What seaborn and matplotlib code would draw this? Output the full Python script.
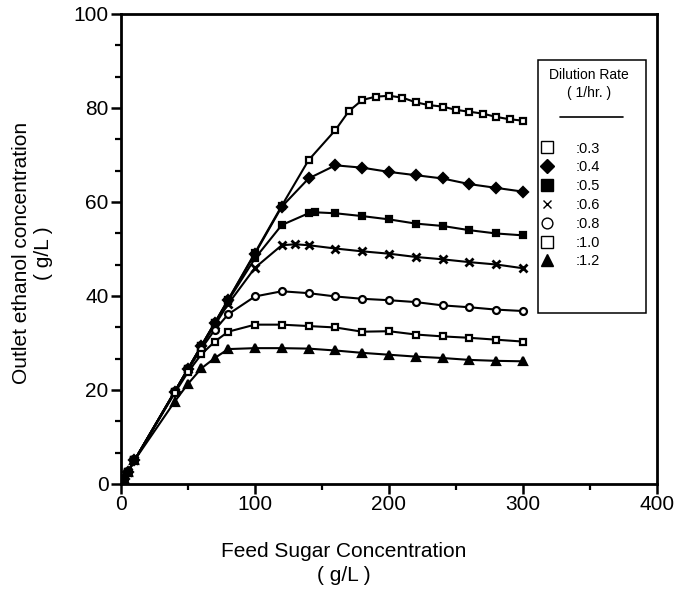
import matplotlib
matplotlib.use("Agg")
import matplotlib.pyplot as plt
from matplotlib.lines import Line2D
from matplotlib.patches import Rectangle
from matplotlib.ticker import MultipleLocator, AutoMinorLocator
import numpy as np
import pandas as pd
import seaborn as sns

# Feed sugar (g/L) and outlet ethanol (g/L) for each dilution rate (1/hr)
feed_03 = [2, 5, 10, 40, 50, 60, 70, 80, 100, 120, 140, 160, 170, 180, 190, 200,
           210, 220, 230, 240, 250, 260, 270, 280, 290, 300]
eth_03 = [1.0, 2.5, 5.0, 19.6, 24.5, 29.4, 34.3, 39.2, 49.2, 59.2, 68.9, 75.3, 79.3,
          81.7, 82.4, 82.6, 82.2, 81.2, 80.6, 80.3, 79.6, 79.2, 78.8, 78.1, 77.6, 77.3]

feed_04 = [2, 5, 10, 40, 50, 60, 70, 80, 100, 120, 140, 160, 180, 200, 220, 240,
           260, 280, 300]
eth_04 = [1.0, 2.5, 5.0, 19.6, 24.5, 29.4, 34.3, 39.2, 49.0, 59.0, 65.0, 67.8, 67.3,
          66.4, 65.7, 65.0, 63.8, 63.0, 62.2]

feed_05 = [2, 5, 10, 40, 50, 60, 70, 80, 100, 120, 140, 145, 160, 180, 200, 220,
           240, 260, 280, 300]
eth_05 = [1.0, 2.5, 5.0, 19.6, 24.5, 29.4, 34.2, 39.0, 48.0, 55.1, 57.6, 57.8, 57.6,
          57.0, 56.3, 55.4, 54.9, 54.0, 53.3, 52.9]

feed_06 = [2, 5, 10, 40, 50, 60, 70, 80, 100, 120, 130, 140, 160, 180, 200, 220,
           240, 260, 280, 300]
eth_06 = [1.0, 2.5, 5.0, 19.6, 24.5, 29.2, 33.8, 38.3, 46.0, 50.8, 51.0, 50.8, 50.1,
          49.5, 49.0, 48.3, 47.8, 47.2, 46.7, 45.9]

feed_08 = [2, 5, 10, 40, 50, 60, 70, 80, 100, 120, 140, 160, 180, 200, 220, 240,
           260, 280, 300]
eth_08 = [1.0, 2.5, 5.0, 19.5, 24.3, 28.8, 32.8, 36.1, 39.9, 41.0, 40.6, 39.9, 39.4,
          39.1, 38.7, 38.0, 37.6, 37.1, 36.8]

feed_10 = [2, 5, 10, 40, 50, 60, 70, 80, 100, 120, 140, 160, 180, 200, 220, 240,
           260, 280, 300]
eth_10 = [1.0, 2.5, 5.0, 19.3, 23.8, 27.6, 30.3, 32.4, 33.9, 33.9, 33.6, 33.3, 32.4,
          32.5, 31.8, 31.4, 31.1, 30.7, 30.3]

feed_12 = [2, 5, 10, 40, 50, 60, 70, 80, 100, 120, 140, 160, 180, 200, 220, 240,
           260, 280, 300]
eth_12 = [1.0, 2.5, 5.0, 17.5, 21.3, 24.6, 26.8, 28.7, 28.9, 28.9, 28.8, 28.4, 27.9,
          27.5, 27.1, 26.8, 26.4, 26.2, 26.1]

rate_labels = [":0.3", ":0.4", ":0.5", ":0.6", ":0.8", ":1.0", ":1.2"]
x_ticks = [0, 100, 200, 300, 400]
y_ticks = [0, 20, 40, 60, 80, 100]

series = [
    (feed_03, eth_03, "s", "white"),
    (feed_04, eth_04, "D", "black"),
    (feed_05, eth_05, "s", "black"),
    (feed_06, eth_06, "x", "black"),
    (feed_08, eth_08, "o", "white"),
    (feed_10, eth_10, "s", "white"),
    (feed_12, eth_12, "^", "black"),
]

frames = []
for (fx, fy, _, _), lab in zip(series, rate_labels):
    frames.append(pd.DataFrame({"feed": fx, "ethanol": fy, "rate": lab}))
df = pd.concat(frames, ignore_index=True)

sns.set_style("ticks")
plt.rcParams["font.family"] = ["Liberation Sans", "DejaVu Sans"]
plt.rcParams["text.color"] = "black"
plt.rcParams["axes.labelcolor"] = "black"

fig = plt.figure(figsize=(6.82, 5.90), dpi=100)
ax = fig.add_axes([0.1774, 0.1797, 0.7859, 0.7966])

sizes = {"s": 5.0, "D": 5.0, "x": 5.5, "o": 5.0, "^": 5.5}
legend_scale = {"s": 1.75, "D": 1.45, "x": 1.1, "o": 1.55, "^": 1.6}
handles = []
for (_, _, mk, fc), lab in zip(series, rate_labels):
    sub = df[df["rate"] == lab]
    sns.lineplot(data=sub, x="feed", y="ethanol", ax=ax, color="black",
                 linewidth=1.5, marker=mk, markersize=sizes[mk],
                 markerfacecolor=fc, markeredgecolor="black",
                 markeredgewidth=1.6 if mk != "x" else 2.0, legend=False)
    handles.append(Line2D([], [], linestyle="none", marker=mk,
                          markersize=sizes[mk] * legend_scale[mk],
                          markerfacecolor=fc, markeredgecolor="black",
                          markeredgewidth=1.0))

ax.set_xlim(0, 400)
ax.set_ylim(0, 100)
ax.set_xticks(x_ticks)
ax.set_yticks(y_ticks)
ax.set_xticklabels([str(v) for v in x_ticks])
ax.set_yticklabels([str(v) for v in y_ticks])
ax.xaxis.set_minor_locator(MultipleLocator(50))
ax.yaxis.set_minor_locator(AutoMinorLocator(3))
ax.tick_params(axis="both", which="major", direction="out", length=7, width=1.8,
               labelsize=15, pad=2, color="black", labelcolor="black")
ax.tick_params(axis="x", which="major", pad=1)
ax.tick_params(axis="both", which="minor", direction="out", length=4, width=1.6,
               color="black")
for sp in ax.spines.values():
    sp.set_visible(True)
    sp.set_linewidth(2.0)
    sp.set_color("black")
ax.grid(False)

ax.set_xlabel("Feed Sugar Concentration\n( g/L )", fontsize=15, linespacing=1.3,
              ha="center", va="center", color="black")
ax.xaxis.set_label_coords(0.416, -0.169)
ax.set_ylabel("Outlet ethanol concentration\n( g/L )", fontsize=15,
              linespacing=1.2, ha="center", va="center", color="black")
ax.yaxis.set_label_coords(-0.166, 0.491)

# Legend panel: frame, heading, rule and entries
fig.patches.append(Rectangle((0.789, 0.469), 0.158, 0.429, transform=fig.transFigure,
                             fill=False, edgecolor="black", linewidth=1.1))
fig.text(0.8636, 0.873, "Dilution Rate", ha="center", va="center", fontsize=10,
         color="black")
fig.text(0.8636, 0.842, "( 1/hr. )", ha="center", va="center", fontsize=10,
         color="black")
fig.lines.append(Line2D([0.821, 0.913], [0.802, 0.802], transform=fig.transFigure,
                       color="black", linewidth=1.2))
leg = fig.legend(handles, rate_labels, loc="upper left",
                 bbox_to_anchor=(0.789, 0.760), frameon=False, fontsize=10.5,
                 handlelength=1.2, handletextpad=1.4, borderpad=0,
                 borderaxespad=0, labelspacing=0.33)
for t in leg.get_texts():
    t.set_color("black")

fig.savefig("out.png", dpi=100)
